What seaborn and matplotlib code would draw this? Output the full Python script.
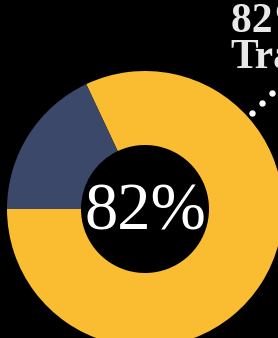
import matplotlib
matplotlib.use("Agg")
import matplotlib.pyplot as plt
import seaborn as sns

labels = ["Yes", "No"]
values = [82, 18]
colors = ["#FABC31", "#3B4869"]
center_label = "82%"
side_lines = ["82% of", "Transactions"]

sns.set_theme(style="dark", rc={"axes.facecolor": "black", "figure.facecolor": "black"})

W, H = 278, 338
fig = plt.figure(figsize=(W / 100, H / 100), dpi=100)
ax = fig.add_axes([0, 0, 1, 1])
ax.set_facecolor("black")

cx, cy, R = 145, H - 209, 138
ax.pie(values, colors=colors, startangle=180, counterclock=True,
       center=(cx, cy), radius=R,
       wedgeprops=dict(width=R - 64, edgecolor="none"))

ax.text(cx, H - 230, center_label, ha="center", va="baseline", color="white",
        fontsize=48, family="Liberation Serif")

ax.text(231, H - 32, side_lines[0], ha="left", va="baseline", color="#e8e8e8",
        fontsize=30, family="Liberation Serif", fontweight="bold")
ax.text(230, H - 68, side_lines[1], ha="left", va="baseline", color="#e8e8e8",
        fontsize=30, family="Liberation Serif", fontweight="bold")

dots_x = [252, 262, 272, 282]
dots_y = [H - 113, H - 103, H - 93, H - 83]
ax.plot(dots_x, dots_y, linestyle="none", marker="o", markersize=3.6,
        color="white", clip_on=True)

ax.set_xlim(0, W)
ax.set_ylim(0, H)
ax.set_aspect("equal")
ax.axis("off")
fig.savefig("out.png", dpi=100, facecolor="black")
